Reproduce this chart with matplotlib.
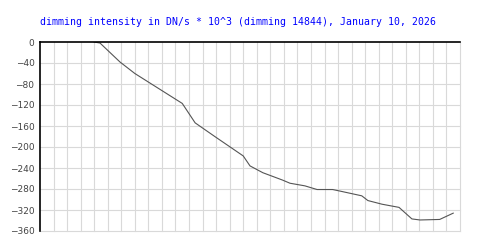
import matplotlib
matplotlib.use("Agg")
import matplotlib.pyplot as plt
import numpy as np

# time in grid steps, dimming values
t = [3.99, 4.43, 5.9, 7.0, 10.5, 11.45, 12.9, 15.0, 15.5, 16.45, 17.9, 18.45,
     19.55, 20.45, 21.6, 22.15, 23.75, 24.2, 25.25, 26.5, 27.45, 28.05, 29.5, 30.5]
dimming = [0, -2, -38, -60, -117, -154, -180, -217, -236, -249, -263, -269,
           -274, -281, -281, -284, -293, -302, -309, -315, -337, -339, -338, -326]

yticks = list(range(0, -361, -40))
title = "dimming intensity in DN/s * 10^3 (dimming 14844), January 10, 2026"

fig = plt.figure(figsize=(5, 2.5), dpi=100)
ax = fig.add_axes([0.08, 0.076, 0.84, 0.756])

ax.set_xlim(0, 31)
ax.set_ylim(-360, 0)

# grid, including the bottom and right border
for x in range(1, 32):
    ax.axvline(x, color="#d9d9d9", lw=0.8, zorder=1, clip_on=False)
for y in yticks[1:]:
    ax.axhline(y, color="#d9d9d9", lw=0.8, zorder=1, clip_on=False)

ax.plot(t, dimming, color="#555555", lw=0.8, zorder=3)

for s in ["right", "bottom"]:
    ax.spines[s].set_visible(False)
ax.spines["left"].set_linewidth(1.2)
ax.spines["top"].set_linewidth(1.2)
ax.spines["left"].set_zorder(4)
ax.spines["top"].set_zorder(4)

ax.set_xticks([])
ax.set_yticks(yticks)
ax.set_yticklabels([str(v).replace("-", "\u2212") for v in yticks],
                   fontsize=6.5, color="#444444")
ax.tick_params(axis="y", length=0, pad=4)

fig.text(0.08, 1 - 22 / 250, title, color="#0000ff", fontsize=7.1,
         family="DejaVu Sans Mono", ha="left", va="center")

fig.savefig("out.png", dpi=100)
